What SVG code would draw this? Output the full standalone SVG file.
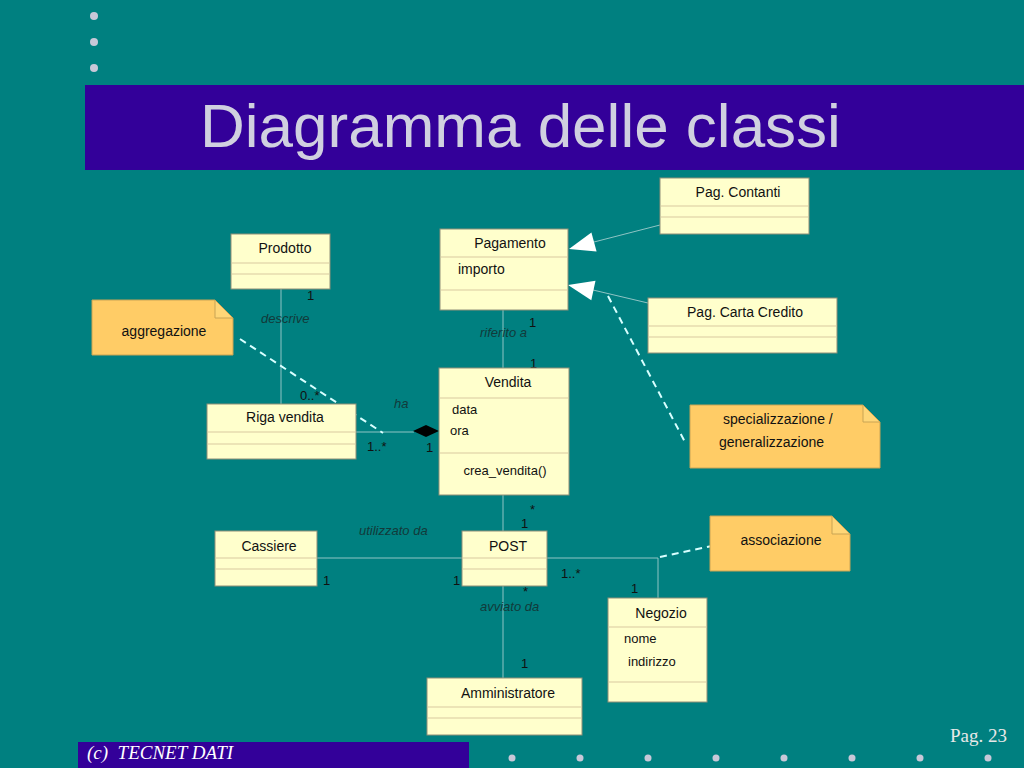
<svg xmlns="http://www.w3.org/2000/svg" width="1024" height="768" viewBox="0 0 1024 768">
<style>
.bg{fill:#008080}
.bar{fill:#330099}
.cls{fill:#ffffcc;stroke:#8f8f78;stroke-width:1}
.sep{stroke:#d9c9a0;stroke-width:1}
.note{fill:#ffcc66;stroke:#c9a455;stroke-width:1}
.fold{fill:#ffd677;stroke:#c9a455;stroke-width:1}
.t{font-family:"Liberation Sans",Arial,sans-serif;font-size:14px;fill:#111}
.c{text-anchor:middle}
.l{font-family:"Liberation Sans",Arial,sans-serif;font-size:13px;fill:#111}
.i{font-family:"Liberation Sans",Arial,sans-serif;font-size:13px;font-style:italic;fill:#123a3a}
.ln{stroke:#8fc4c4;stroke-width:1;fill:none}
.dash{stroke:#d8ffff;stroke-width:2;stroke-dasharray:7,5;fill:none}
.dot{fill:#c8c8d8}
</style>
<rect class="bg" x="0" y="0" width="1024" height="768"/>
<g id="bullets">
<circle class="dot" cx="94" cy="16" r="4"/>
<circle class="dot" cx="94" cy="42" r="4"/>
<circle class="dot" cx="94" cy="68" r="4"/>
</g>
<g id="title">
<rect class="bar" x="85" y="85" width="939" height="85"/>
<text x="200" y="147" font-family="'Liberation Sans',Arial,sans-serif" font-size="62" fill="#d0d0e0">Diagramma delle classi</text>
</g>
<g id="connectors">
<line class="ln" x1="281" y1="289" x2="281" y2="404"/>
<line class="ln" x1="503" y1="310" x2="503" y2="368"/>
<line class="ln" x1="356" y1="432" x2="414" y2="432"/>
<polygon points="413,431 426,425 439,431 426,437" fill="#000"/>
<line class="ln" x1="503" y1="495" x2="503" y2="531"/>
<line class="ln" x1="317" y1="558" x2="462" y2="558"/>
<polyline class="ln" points="547,558 658,558 658,598"/>
<line class="ln" x1="503" y1="586" x2="503" y2="678"/>
<line class="ln" x1="660" y1="225" x2="594" y2="242"/>
<polygon points="569,249 596.6,251.6 591.4,232.4" fill="#fff"/>
<line class="ln" x1="648" y1="303" x2="593" y2="290"/>
<polygon points="568,285 595.5,280.7 591.3,300.3" fill="#fff"/>
<line class="dash" x1="240" y1="339" x2="383" y2="433"/>
<line class="dash" x1="608" y1="296" x2="685" y2="442"/>
<line class="dash" x1="660" y1="557" x2="712" y2="546"/>
</g>
<g id="labels">
<text class="l" x="307" y="300">1</text>
<text class="i" x="261" y="323">descrive</text>
<text class="l" x="300" y="400">0..*</text>
<text class="i" x="394" y="408">ha</text>
<text class="l" x="367" y="451">1..*</text>
<text class="l" x="426" y="452">1</text>
<text class="i" x="480" y="337">riferito a</text>
<text class="l" x="529" y="327">1</text>
<text class="l" x="530" y="368">1</text>
<text class="l" x="530" y="514">*</text>
<text class="l" x="521" y="528">1</text>
<text class="i" x="359" y="535">utilizzato da</text>
<text class="l" x="323" y="585">1</text>
<text class="l" x="453" y="585">1</text>
<text class="l" x="561" y="578">1..*</text>
<text class="l" x="631" y="593">1</text>
<text class="l" x="523" y="596" font-size="12">*</text>
<text class="i" x="480" y="611">avviato da</text>
<text class="l" x="521" y="668">1</text>
</g>
<g id="prodotto">
<rect class="cls" x="231" y="234" width="99" height="55"/>
<line class="sep" x1="232" y1="263" x2="329" y2="263"/>
<line class="sep" x1="232" y1="274" x2="329" y2="274"/>
<text class="t c" x="285" y="253">Prodotto</text>
</g>
<g id="pagamento">
<rect class="cls" x="440" y="229" width="128" height="81"/>
<line class="sep" x1="441" y1="257" x2="567" y2="257"/>
<line class="sep" x1="441" y1="290" x2="567" y2="290"/>
<text class="t c" x="510" y="248">Pagamento</text>
<text class="t" x="458" y="274">importo</text>
</g>
<g id="pag-contanti">
<rect class="cls" x="660" y="178" width="149" height="56"/>
<line class="sep" x1="661" y1="206" x2="808" y2="206"/>
<line class="sep" x1="661" y1="217" x2="808" y2="217"/>
<text class="t c" x="738" y="197">Pag. Contanti</text>
</g>
<g id="pag-carta-credito">
<rect class="cls" x="648" y="298" width="189" height="55"/>
<line class="sep" x1="649" y1="326" x2="836" y2="326"/>
<line class="sep" x1="649" y1="337" x2="836" y2="337"/>
<text class="t c" x="745" y="317">Pag. Carta Credito</text>
</g>
<g id="riga-vendita">
<rect class="cls" x="207" y="404" width="149" height="55"/>
<line class="sep" x1="208" y1="432" x2="355" y2="432"/>
<line class="sep" x1="208" y1="444" x2="355" y2="444"/>
<text class="t c" x="285" y="422">Riga vendita</text>
</g>
<g id="vendita">
<rect class="cls" x="439" y="368" width="130" height="127"/>
<line class="sep" x1="440" y1="398" x2="568" y2="398"/>
<line class="sep" x1="440" y1="453" x2="568" y2="453"/>
<text class="t c" x="508" y="387">Vendita</text>
<text class="l" x="452" y="414">data</text>
<text class="l" x="450" y="435">ora</text>
<text class="l c" x="505" y="475">crea_vendita()</text>
</g>
<g id="cassiere">
<rect class="cls" x="215" y="531" width="102" height="55"/>
<line class="sep" x1="216" y1="558" x2="316" y2="558"/>
<line class="sep" x1="216" y1="569" x2="316" y2="569"/>
<text class="t c" x="269" y="551">Cassiere</text>
</g>
<g id="post">
<rect class="cls" x="462" y="531" width="85" height="55"/>
<line class="sep" x1="463" y1="558" x2="546" y2="558"/>
<line class="sep" x1="463" y1="569" x2="546" y2="569"/>
<text class="t c" x="508" y="551">POST</text>
</g>
<g id="negozio">
<rect class="cls" x="608" y="598" width="99" height="104"/>
<line class="sep" x1="609" y1="627" x2="706" y2="627"/>
<line class="sep" x1="609" y1="682" x2="706" y2="682"/>
<text class="t c" x="661" y="618">Negozio</text>
<text class="l" x="624" y="643">nome</text>
<text class="l" x="628" y="666">indirizzo</text>
</g>
<g id="amministratore">
<rect class="cls" x="427" y="678" width="155" height="57"/>
<line class="sep" x1="428" y1="707" x2="581" y2="707"/>
<line class="sep" x1="428" y1="718" x2="581" y2="718"/>
<text class="t c" x="508" y="698">Amministratore</text>
</g>
<g id="note-aggregazione">
<path class="note" d="M92,300 H215 L233,318 V355 H92 Z"/>
<path class="fold" d="M215,300 V318 H233 Z"/>
<text class="t c" x="164" y="336">aggregazione</text>
</g>
<g id="note-specializzazione">
<path class="note" d="M690,405 H863 L880,422 V468 H690 Z"/>
<path class="fold" d="M863,405 V422 H880 Z"/>
<text class="t" x="723" y="424">specializzazione /</text>
<text class="t" x="719" y="447">generalizzazione</text>
</g>
<g id="note-associazione">
<path class="note" d="M710,516 H832 L850,534 V571 H710 Z"/>
<path class="fold" d="M832,516 V534 H850 Z"/>
<text class="t c" x="781" y="545">associazione</text>
</g>
<g id="footer">
<rect class="bar" x="78" y="742" width="391" height="26"/>
<text x="87" y="759" font-family="'Liberation Serif','Times New Roman',serif" font-size="19" font-style="italic" fill="#ffffff" xml:space="preserve">(c)  TECNET DATI</text>
<text x="950" y="742" font-family="'Liberation Serif','Times New Roman',serif" font-size="19" fill="#e8e8e8">Pag. 23</text>
<circle class="dot" cx="512" cy="758" r="3.5"/>
<circle class="dot" cx="580" cy="758" r="3.5"/>
<circle class="dot" cx="648" cy="758" r="3.5"/>
<circle class="dot" cx="716" cy="758" r="3.5"/>
<circle class="dot" cx="784" cy="758" r="3.5"/>
<circle class="dot" cx="852" cy="758" r="3.5"/>
<circle class="dot" cx="920" cy="758" r="3.5"/>
<circle class="dot" cx="988" cy="758" r="3.5"/>
</g>
</svg>
